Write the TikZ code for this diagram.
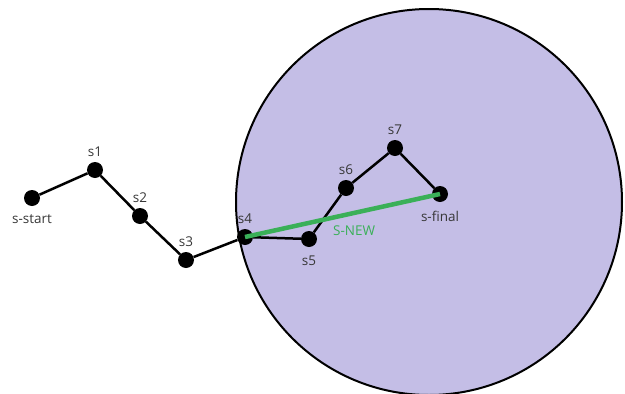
\documentclass[tikz,border=0pt]{standalone}
\usepackage{fontspec}
\setmainfont{Open Sans}
\usetikzlibrary{positioning}
\definecolor{disc}{RGB}{196,190,230}
\definecolor{newgreen}{RGB}{58,176,88}
\definecolor{labelgray}{RGB}{55,55,55}

\begin{document}
\begin{tikzpicture}[x=1pt, y=-1pt,
  every node/.style={font=\fontsize{13.5}{15}\selectfont, text=labelgray},
  every label/.style={label distance=2pt},
  state/.style={circle, fill=black, minimum size=16pt, inner sep=0pt},
  hop/.style={line width=2.5pt}]
\useasboundingbox (0,0) rectangle (625,394);
\fill[disc] (429,202) circle[radius=193pt];
\draw[line width=2pt] (429,202) circle[radius=193pt];
\node[state, label={[label distance=5pt]below:s-start}] (sstart) at (32,198) {};
\node[state, label=above:s1] (s1) at (95,170) {};
\node[state, label=above:s2] (s2) at (140,216) {};
\node[state, label=above:s3] (s3) at (186,260) {};
\node[state, label=above:s4] (s4) at (245,237) {};
\node[state, label={[label distance=5pt]below:s5}] (s5) at (309,239) {};
\node[state, label=above:s6] (s6) at (346,188) {};
\node[state, label=above:s7] (s7) at (395,148) {};
\node[state, label={[label distance=5pt]below:s-final}] (sfinal) at (440,194) {};
\draw[hop] (sstart) -- (s1) -- (s2) -- (s3) -- (s4) -- (s5) -- (s6) -- (s7) -- (sfinal);
\draw[newgreen, line width=4.5pt] (s4.center) -- node[pos=0.56, below=7pt, text=newgreen] (snew) {S-NEW} (sfinal.center);
\end{tikzpicture}
\end{document}
